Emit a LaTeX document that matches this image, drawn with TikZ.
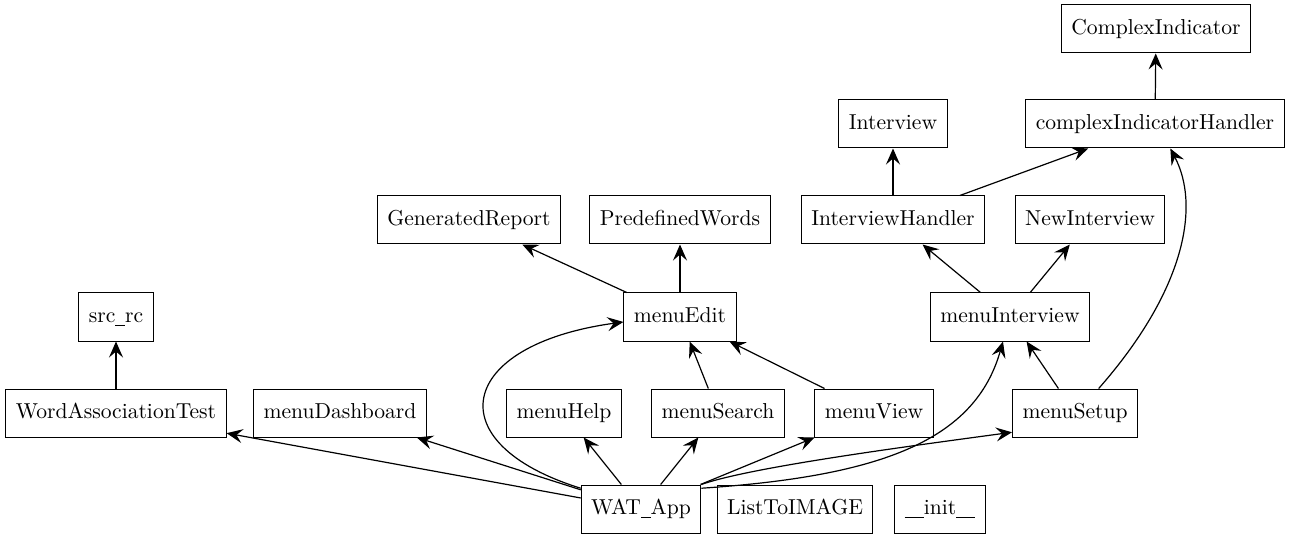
\documentclass[tikz,border=0pt]{standalone}
\usepackage{tikz}
\usetikzlibrary{arrows.meta}

\newcommand{\usc}{\rule[-1.6pt]{4.8pt}{0.45pt}}

\begin{document}
\begin{tikzpicture}[
    x=0.5pt, y=-0.5pt,
    box/.style={draw, line width=0.5pt, inner xsep=5pt, inner ysep=0pt, minimum height=24pt, text height=7.6pt, text depth=2.2pt, font=\fontsize{10.8}{13}\selectfont},
    arrow/.style={-{Stealth[length=8pt, width=7pt, inset=3pt]}, line width=0.6pt}
]
    \useasboundingbox (0,0) rectangle (1293,539);

    \node[box] (ci) at (1156,29) {ComplexIndicator};
    \node[box] (iv) at (893,124) {Interview};
    \node[box] (cih) at (1155,124) {complexIndicatorHandler};
    \node[box] (genrep) at (469,220) {GeneratedReport};
    \node[box] (predef) at (680,220) {PredefinedWords};
    \node[box] (ivh) at (893,220) {InterviewHandler};
    \node[box] (newiv) at (1090,220) {NewInterview};
    \node[box] (src) at (116,317) {src\usc rc};
    \node[box] (medit) at (680,317) {menuEdit};
    \node[box] (miv) at (1010,317) {menuInterview};
    \node[box] (wat) at (116,413) {WordAssociationTest};
    \node[box] (mdash) at (340,413) {menuDashboard};
    \node[box] (mhelp) at (564,413) {menuHelp};
    \node[box] (msearch) at (718,413) {menuSearch};
    \node[box] (mview) at (874,413) {menuView};
    \node[box] (msetup) at (1075,413) {menuSetup};
    \node[box] (app) at (641,509) {WAT\usc App};
    \node[box] (listimg) at (795,509) {ListToIMAGE};
    \node[box] (init) at (940,509) {\usc\usc init\usc\usc};

    \draw[arrow] (cih) -- (ci);
    \draw[arrow] (ivh) -- (iv);
    \draw[arrow] (ivh) -- (cih);
    \draw[arrow] (medit) -- (genrep);
    \draw[arrow] (medit) -- (predef);
    \draw[arrow] (miv) -- (ivh);
    \draw[arrow] (miv) -- (newiv);
    \draw[arrow] (wat) -- (src);
    \draw[arrow] (msearch) -- (medit);
    \draw[arrow] (mview) -- (medit);
    \draw[arrow] (msetup) -- (miv);
    \draw[arrow] (msetup.46) .. controls +(87,-99) and +(30,57) .. (cih.302);

    % WAT_App uses
    \draw[arrow] (app) -- (wat);
    \draw[arrow] (app) -- (mdash);
    \draw[arrow] (app) -- (mhelp);
    \draw[arrow] (app) -- (msearch);
    \draw[arrow] (app) -- (mview);
    \draw[arrow] (app.161) .. controls +(-145,-45) and +(-167,23) .. (medit.185);
    \draw[arrow] (app.19) .. controls +(180,-12) and +(-28,99) .. (miv.254);
    \draw[arrow] (app.north east) .. controls +(48,-17) and +(-111,15) .. (msetup.197);
\end{tikzpicture}
\end{document}
